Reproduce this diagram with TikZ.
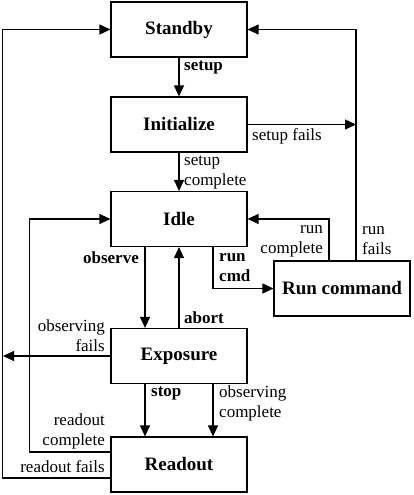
\documentclass[tikz,border=0pt]{standalone}
\usepackage{fontspec}
\setmainfont{Liberation Serif}
\usetikzlibrary{arrows.meta}
\begin{document}
\begin{tikzpicture}[x=1pt,y=-1pt,
  statebox/.style={draw,line width=1.2pt,minimum width=136pt,minimum height=55pt,inner sep=0pt,font=\fontsize{19}{22}\selectfont\bfseries},
  arr/.style={line width=1.2pt,-{Triangle[length=11pt,width=10pt]}},
  ln/.style={line width=1.2pt},
  lbl/.style={inner sep=0pt,font=\fontsize{17}{20}\selectfont},
  blbl/.style={inner sep=0pt,font=\fontsize{17}{20}\selectfont\bfseries}]
\useasboundingbox (0,0) rectangle (414,495);
\node[statebox] (sb) at (179,29.5) {Standby};
\node[statebox] (init) at (179,124.5) {Initialize};
\node[statebox] (idle) at (179,219) {Idle};
\node[statebox] (rc) at (342,288.5) {Run command};
\node[statebox] (exp) at (179,356) {Exposure};
\node[statebox] (ro) at (179,464.5) {Readout};
\coordinate (rj) at (356,124.5);
\coordinate (lj) at (3,356);
% edges
\draw[arr] (sb.south) -- (init.north);
\draw[arr] (init.south) -- (idle.north);
\draw[arr] (init.east) -- (rj);
\draw[arr] ([xshift=14pt]rc.north) |- (sb.east);
\draw[arr] ([xshift=-13pt]rc.north) |- (idle.east);
\draw[arr] ([xshift=34pt]idle.south) |- (rc.west);
\draw[arr] ([xshift=-34pt]idle.south) -- ([xshift=-34pt]exp.north);
\draw[arr] (exp.north) -- (idle.south);
\draw[arr] ([xshift=-34pt]exp.south) -- ([xshift=-34pt]ro.north);
\draw[arr] ([xshift=34pt]exp.south) -- ([xshift=34pt]ro.north);
\draw[arr] (exp.west) -- (lj);
\draw[arr] ([yshift=-13.5pt]ro.west) -- ++(-108,0) |- (sb.west);
\draw[arr] ([yshift=12.5pt]ro.west) -- ++(-81,0) |- (idle.west);
% labels
\node[blbl,anchor=west] (l1) at (184,68) {setup};
\node[lbl,anchor=west] (l2) at (252,136) {setup fails};
\node[lbl,anchor=west,align=left] (l3) at (184,173) {setup\\complete};
\node[lbl,anchor=east,align=right] (l4) at (323,241) {run\\complete};
\node[lbl,anchor=west,align=left] (l5) at (362,241) {run\\fails};
\node[blbl,anchor=east] (l6) at (139,258) {observe};
\node[blbl,anchor=west,align=left] (l7) at (219,268) {run\\cmd};
\node[blbl,anchor=west] (l8) at (184,318) {abort};
\node[lbl,anchor=east,align=right] (l9) at (105,335.5) {observing\\fails};
\node[blbl,anchor=west] (l10) at (151,394) {stop};
\node[lbl,anchor=west,align=left] (l11) at (219,403) {observing\\complete};
\node[lbl,anchor=east,align=right] (l12) at (105,431) {readout\\complete};
\node[lbl,anchor=east] (l13) at (105,467) {readout fails};
\end{tikzpicture}
\end{document}
